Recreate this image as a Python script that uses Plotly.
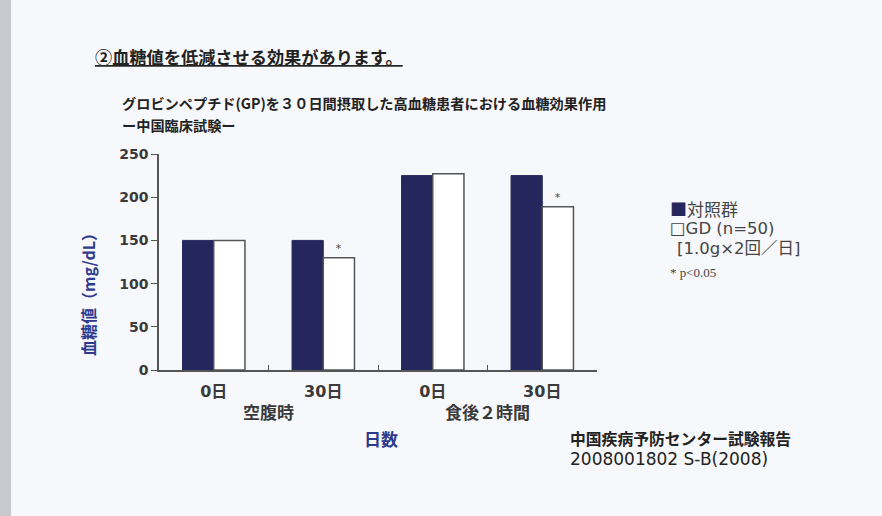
import plotly.graph_objects as go

# ---- data ----
phases = ["空腹時", "食後２時間"]
phase = ["空腹時", "空腹時", "食後２時間", "食後２時間"]
days = ["0日", "30日", "0日", "30日"]
control = [150, 150, 225, 225]
gd = [150, 130, 227, 189]
gd_sig = ["", "*", "", "*"]
y_ticks = [0, 50, 100, 150, 200, 250]

# unique category keys, labelled with the day only
keys = [f"{p}/{d}" for p, d in zip(phase, days)]

# ---- canvas geometry (pixels) ----
W, H = 882, 516
L, R, T, B = 159, 597, 154, 370   # plot area edges


def px(x, y):
    """pixel position -> paper coordinates"""
    return (x - L) / (R - L), (B - y) / (B - T)


NAVY = "#25275c"
BLUE = "#2d3a8e"
INK = "#3a3a3a"
BG = "#f7f8fb"
JP = "Noto Sans CJK JP"
MIX = "DejaVu Sans, Noto Sans CJK JP"

fig = go.Figure()
fig.add_trace(go.Bar(
    x=keys, y=control, name="対照群",
    marker=dict(color=NAVY, line=dict(color=NAVY, width=1)),
))
fig.add_trace(go.Bar(
    x=keys, y=gd, name="GD",
    marker=dict(color="white", line=dict(color="#555555", width=1.5)),
    text=gd_sig, textposition="outside",
    textfont=dict(family="DejaVu Sans", size=11, color="#444444"),
    cliponaxis=False,
))

ann = []


def note(x, y, text, size, color=INK, family=JP, weight="normal",
         xanchor="left", angle=0, **kw):
    ax, ay = px(x, y)
    ann.append(dict(
        x=ax, y=ay, xref="paper", yref="paper", text=text, showarrow=False,
        xanchor=xanchor, yanchor="middle", textangle=angle,
        font=dict(family=family, size=size, color=color, weight=weight, **kw),
    ))


note(93, 57, "②血糖値を低減させる効果があります。", 17.2, color="#222222",
     weight="bold", lineposition="under")
note(120, 103, "グロビンペプチド(GP)を３０日間摂取した高血糖患者における血糖効果作用",
     14.2, color="#222222", weight="bold")
note(120, 125, "ー中国臨床試験ー", 14.2, color="#222222", weight="bold")
note(88, 291, "血糖値（mg/dL）", 16, color=BLUE, weight="bold",
     xanchor="center", angle=-90)
note(381, 438, "日数", 17, color=BLUE, weight="bold", xanchor="center")
note(568, 438, "中国疾病予防センター試験報告", 15.8, color="#222222", weight="bold")
note(568, 459, "2008001802 S-B(2008)", 17, color="#222222", family=MIX)

# legend block
note(668, 208, f"<span style='color:{NAVY}'>■</span>対照群", 17, color="#444444")
note(668, 228, "□GD (n=50)", 16.5, color="#444444", family=MIX)
note(675, 248, "[1.0g×2回／日]", 16.5, color="#444444", family=MIX)
note(668, 272, "* p<0.05", 13, color="#444444", family="Liberation Serif")

# phase labels centred under each pair of day categories
_, gy = px(0, 411)
for i, name in enumerate(phases):
    ann.append(dict(
        x=2 * i + 0.5, y=gy, xref="x", yref="paper", text=name,
        showarrow=False, xanchor="center", yanchor="middle",
        font=dict(family=JP, size=17, color=INK, weight="bold"),
    ))

# grey binding edge on the left
x0, _ = px(0, 0)
x1, _ = px(11, 0)
_, y0 = px(0, H)
_, y1 = px(0, 0)
shapes = [dict(type="rect", xref="paper", yref="paper", x0=x0, x1=x1,
               y0=y0, y1=y1, fillcolor="#c8c9ce", line=dict(width=0),
               layer="below")]

fig.update_layout(
    width=W, height=H,
    margin=dict(l=L, r=W - R, t=T, b=H - B, pad=0),
    paper_bgcolor=BG, plot_bgcolor=BG,
    barmode="group", bargap=0.43, bargroupgap=0,
    showlegend=False,
    annotations=ann, shapes=shapes,
    xaxis=dict(
        type="category", categoryorder="array", categoryarray=keys,
        tickvals=keys, ticktext=days, tickson="boundaries",
        range=[-0.5, len(keys) - 0.5],
        showline=True, linecolor="#555555", linewidth=1.5,
        ticks="inside", ticklen=5, tickcolor="#555555", tickwidth=1,
        ticklabelstandoff=6,
        tickfont=dict(family=MIX, size=16, color=INK, weight="bold"),
        showgrid=False, zeroline=False,
    ),
    yaxis=dict(
        range=[0, 250], tickvals=y_ticks,
        showline=True, linecolor="#555555", linewidth=1.5,
        ticks="outside", ticklen=6, tickcolor="#555555", tickwidth=1,
        tickfont=dict(family="DejaVu Sans", size=14, color=INK, weight="bold"),
        showgrid=False, zeroline=False,
    ),
)

fig.write_html("out.html")
